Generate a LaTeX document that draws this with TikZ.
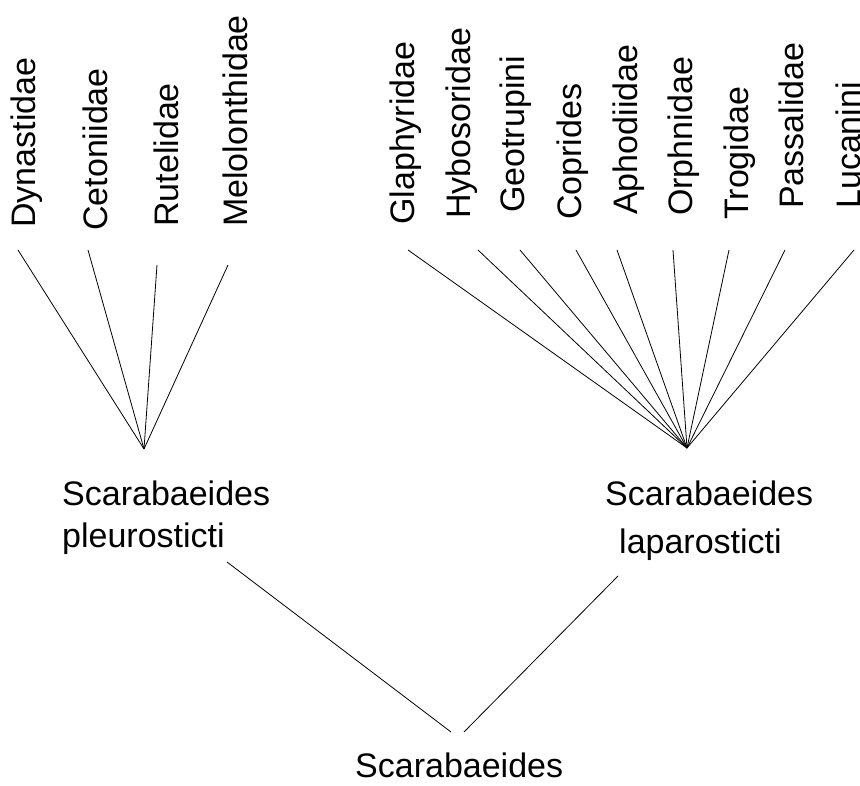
\documentclass[tikz,border=0pt]{standalone}
\usepackage{fontspec}
\setmainfont{Liberation Sans}

\begin{document}
\begin{tikzpicture}
    [x=1pt, y=-1pt,
    every node/.style={font=\fontsize{34}{40}\selectfont, inner sep=0pt},
    taxon/.style={rotate=90, anchor=base west},
    group/.style={anchor=base west},
    branch/.style={line width=0.8pt}]

    \useasboundingbox (0,0) rectangle (860,786);

    \coordinate (P) at (144,449);
    \coordinate (L) at (687,448);

    \foreach \name/\txt/\bx/\by/\ex/\ey in {
        dyn/Dynastidae/35/228/18/250,
        cet/Cetoniidae/107/231/88/250,
        rut/Rutelidae/178/227/157/265,
        mel/Melolonthidae/247/227/228/265}
    {
        \node[taxon] (\name) at (\bx,\by) {\txt};
        \coordinate (\name-end) at (\ex,\ey);
        \draw[branch] (\name-end) -- (P);
    }

    \foreach \name/\txt/\bx/\by/\ex/\ey in {
        gla/Glaphyridae/414/225/408/250,
        hyb/Hybosoridae/470/219/478/250,
        geo/Geotrupini/524/213/520/250,
        cop/Coprides/581/220/576/250,
        aph/Aphodiidae/637/215/617/250,
        orp/Orphnidae/692/216/673/250,
        tro/Trogidae/748/220/729/250,
        pas/Passalidae/803/209/785/250,
        luc/Lucanini/860/209/854/250}
    {
        \node[taxon] (\name) at (\bx,\by) {\txt};
        \coordinate (\name-end) at (\ex,\ey);
        \draw[branch] (\name-end) -- (L);
    }

    \node[group] (pleu1) at (62,505) {Scarabaeides};
    \node[group] (pleu2) at (62,547) {pleurosticti};
    \node[group] (lapa1) at (605,505) {Scarabaeides};
    \node[group] (lapa2) at (619,553) {laparosticti};
    \node[group] (root) at (355,777) {Scarabaeides};

    \coordinate (pleu-end) at (227,562);
    \coordinate (lapa-end) at (618,576);
    \coordinate (root-l) at (451,732);
    \coordinate (root-r) at (464,732);
    \draw[branch] (pleu-end) -- (root-l);
    \draw[branch] (lapa-end) -- (root-r);

\end{tikzpicture}
\end{document}
